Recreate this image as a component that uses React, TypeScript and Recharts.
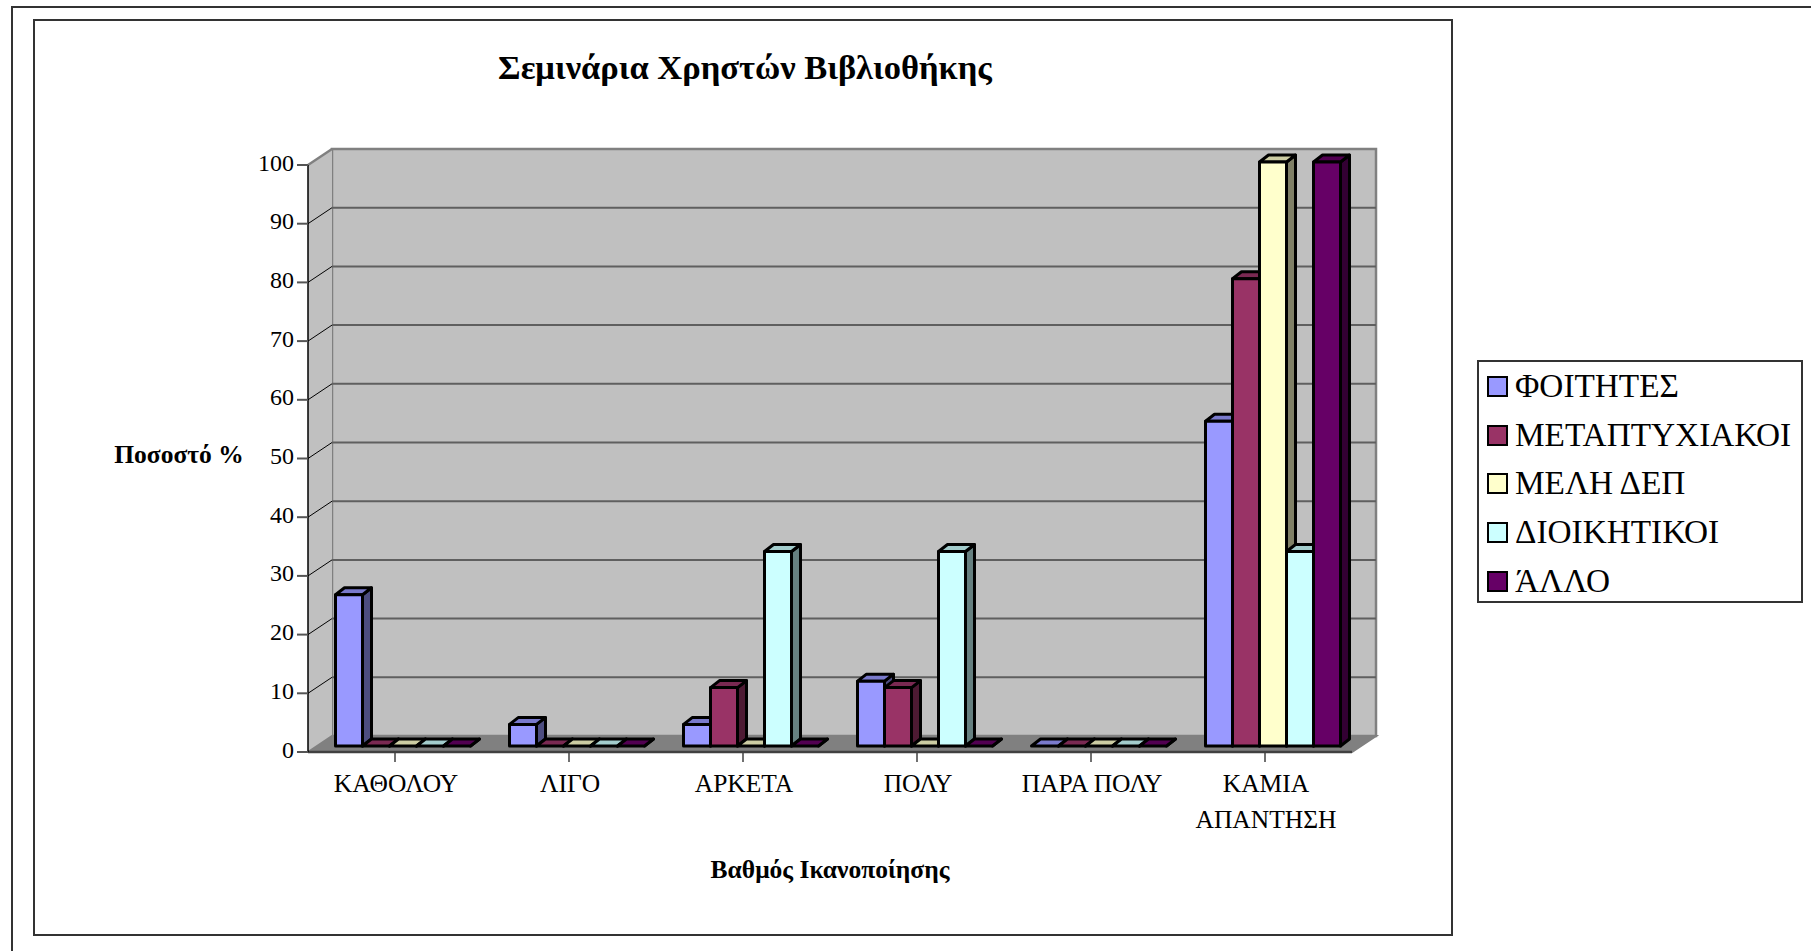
import React from 'react';
import { BarChart, Bar, XAxis, YAxis, CartesianGrid, Legend, Customized } from 'recharts';

const categories = ['ΚΑΘΟΛΟΥ', 'ΛΙΓΟ', 'ΑΡΚΕΤΑ', 'ΠΟΛΥ', 'ΠΑΡΑ ΠΟΛΥ', 'ΚΑΜΙΑ ΑΠΑΝΤΗΣΗ'];
const foitites = [25.9, 3.7, 3.7, 11.1, 0, 55.6];
const metaptyxiakoi = [0, 0, 10, 10, 0, 80];
const melhDep = [0, 0, 0, 0, 0, 100];
const dioikitikoi = [0, 0, 33.3, 33.3, 0, 33.3];
const allo = [0, 0, 0, 0, 0, 100];
const yTicks = [0, 10, 20, 30, 40, 50, 60, 70, 80, 90, 100];

const seriesNames = ['ΦΟΙΤΗΤΕΣ', 'ΜΕΤΑΠΤΥΧΙΑΚΟΙ', 'ΜΕΛΗ ΔΕΠ', 'ΔΙΟΙΚΗΤΙΚΟΙ', 'ΆΛΛΟ'];
const seriesValues = [foitites, metaptyxiakoi, melhDep, dioikitikoi, allo];
const seriesColors = ['#9999ff', '#993366', '#ffffcc', '#ccffff', '#660066'];

const data = categories.map((name, i) => {
    const row: Record<string, string | number> = { name };
    seriesNames.forEach((s, j) => { row[s] = seriesValues[j][i]; });
    return row;
});

const FONT = '"Liberation Serif", serif';
const WIDTH = 1811;
const HEIGHT = 951;

// front plane of the plot and the depth of the 3d box
const LEFT = 308;
const RIGHT = 1352;
const TOP = 165;
const BOTTOM = 752;
const DX = 24;
const DY = -16;

const shade = (hex: string, k: number) => {
    const n = parseInt(hex.slice(1), 16);
    const c = [(n >> 16) & 255, (n >> 8) & 255, n & 255].map(v => Math.round(v * k));
    return `rgb(${c.join(',')})`;
};

const Box3D = (props: any) => {
    const { x, y, width, height, fill } = props;
    const dx = 9;
    const dy = 7;
    const h = height * 584 / 587;
    const bottom = y + height - 6;
    const top = bottom - h;
    const l = x + 7.5;
    const r = l + width;
    return (
        <g stroke="#000" strokeWidth={3} strokeLinejoin="round">
            <polygon points={`${r},${bottom} ${r + dx},${bottom - dy} ${r + dx},${top - dy} ${r},${top}`} fill={shade(fill, 0.5)} />
            <polygon points={`${l},${top} ${l + dx},${top - dy} ${r + dx},${top - dy} ${r},${top}`} fill={shade(fill, 0.8)} />
            {h > 0 && <rect x={l} y={top} width={width} height={h} fill={fill} />}
        </g>
    );
};

const GridLine = (props: any) => {
    const { x1, x2, y1 } = props;
    if (Math.abs(y1 - BOTTOM) < 1) return <g />;
    const isTop = Math.abs(y1 - TOP) < 1;
    return (
        <g fill="none">
            <line x1={x1} y1={y1} x2={x1 + DX} y2={y1 + DY} stroke={isTop ? '#808080' : '#000'} strokeWidth={isTop ? 2.5 : 1} />
            {!isTop && <line x1={x1 + DX} y1={y1 + DY} x2={x2 + DX} y2={y1 + DY} stroke="#5f5f5f" strokeWidth={2} />}
        </g>
    );
};

const Walls = () => (
    <g>
        <text x={745} y={79} textAnchor="middle" fontFamily={FONT} fontWeight="bold" fontSize={34.5} fill="#000">Σεμινάρια Χρηστών Βιβλιοθήκης</text>
        <text x={179} y={463} textAnchor="middle" fontFamily={FONT} fontWeight="bold" fontSize={25.5} fill="#000">Ποσοστό %</text>
        <text x={830} y={878} textAnchor="middle" fontFamily={FONT} fontWeight="bold" fontSize={25.5} fill="#000">Βαθμός Ικανοποίησης</text>
        <polygon points={`${LEFT + DX},${TOP + DY} ${RIGHT + DX},${TOP + DY} ${RIGHT + DX},${BOTTOM + DY} ${LEFT + DX},${BOTTOM + DY}`} fill="#c0c0c0" stroke="#808080" strokeWidth={2.5} />
        <polygon points={`${LEFT},${TOP} ${LEFT + DX},${TOP + DY} ${LEFT + DX},${BOTTOM + DY} ${LEFT},${BOTTOM}`} fill="#c0c0c0" />
        <polygon points={`${LEFT},${BOTTOM} ${LEFT + DX},${BOTTOM + DY} ${RIGHT + DX},${BOTTOM + DY} ${RIGHT},${BOTTOM}`} fill="#808080" stroke="#808080" strokeWidth={2} />
    </g>
);

const CategoryTick = (props: any) => {
    const { x, y, payload } = props;
    const lines = payload.value.length > 10 ? payload.value.split(' ') : [payload.value];
    return (
        <text x={x + 1} y={y + 28} textAnchor="middle" fontFamily={FONT} fontSize={25.5} fill="#000">
            {lines.map((line: string, i: number) => (
                <tspan key={line} x={x + 1} dy={i === 0 ? 0 : 36}>{line}</tspan>
            ))}
        </text>
    );
};

const LegendBox = ({ payload }: any) => (
    <div style={{ width: 326, height: 243, boxSizing: 'border-box', border: '2px solid #333', background: '#fff' }}>
        {(payload || []).map((p: any) => (
            <div key={p.value} style={{ display: 'flex', alignItems: 'center', height: 48.8, marginLeft: 8 }}>
                <span style={{ width: 21, height: 21, boxSizing: 'border-box', border: '2.5px solid #000', background: p.color, marginRight: 7 }} />
                <span style={{ fontFamily: FONT, fontSize: 33.3, color: '#000', lineHeight: 1, whiteSpace: 'nowrap', position: 'relative', top: -1 }}>{p.value}</span>
            </div>
        ))}
    </div>
);

export default function App() {
    return (
        <div style={{ position: 'absolute', left: 0, top: 0, width: WIDTH, height: HEIGHT, background: '#fff', overflow: 'hidden' }}>
            <div style={{ position: 'absolute', left: 11, top: 6, width: 1830, height: 980, border: '2px solid #333', boxSizing: 'border-box' }} />
            <div style={{ position: 'absolute', left: 33, top: 19, width: 1420, height: 917, border: '2px solid #333', boxSizing: 'border-box' }} />
            <BarChart
                width={WIDTH}
                height={HEIGHT}
                data={data}
                barCategoryGap={20}
                barGap={0}
                margin={{ left: LEFT - 60, right: WIDTH - RIGHT, top: TOP, bottom: HEIGHT - BOTTOM - 100 }}
                style={{ position: 'absolute', left: 0, top: 0 }}
            >
                <Customized component={Walls} />
                <CartesianGrid vertical={false} horizontal={GridLine as any} zIndex={100} />
                <XAxis
                    dataKey="name"
                    height={100}
                    interval={0}
                    tick={CategoryTick as any}
                    tickSize={10}
                    axisLine={{ stroke: '#404040', strokeWidth: 2.5 }}
                    tickLine={{ stroke: '#404040', strokeWidth: 1.5 }}
                />
                <YAxis
                    width={60}
                    domain={[0, 100]}
                    ticks={yTicks}
                    interval={0}
                    tickSize={11}
                    tickMargin={3}
                    tick={{ fontFamily: FONT, fontSize: 24, fill: '#000', dy: -3 }}
                    axisLine={{ stroke: '#000', strokeWidth: 1.5 }}
                    tickLine={{ stroke: '#555', strokeWidth: 2 }}
                />
                <Legend
                    layout="horizontal"
                    align="center"
                    verticalAlign="middle"
                    itemSorter={null}
                    content={LegendBox as any}
                    wrapperStyle={{ left: 1477, top: 360, width: 326 }}
                />
                {seriesNames.map((s, i) => (
                    <Bar key={s} dataKey={s} fill={seriesColors[i]} shape={Box3D} isAnimationActive={false} />
                ))}
            </BarChart>
        </div>
    );
}
